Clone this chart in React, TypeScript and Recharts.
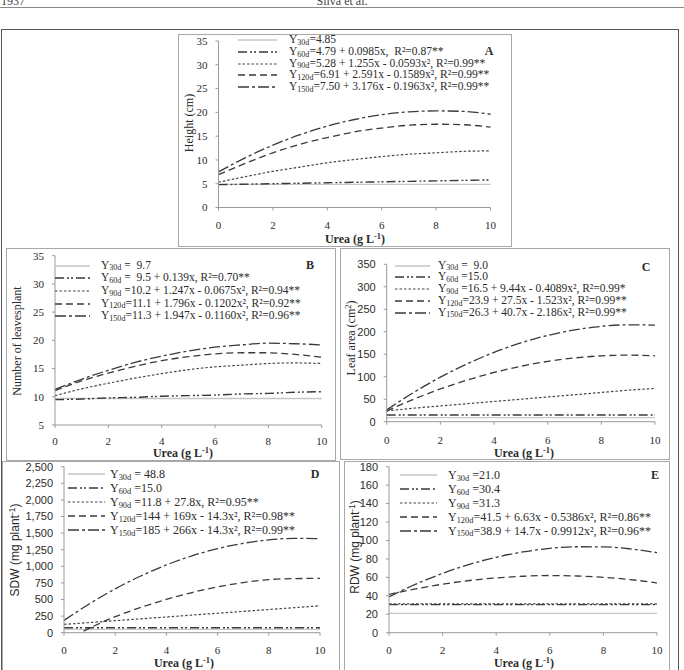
import React from "react";
import { Line, LineChart, XAxis, YAxis } from "recharts";

type Row = { x: number; d30: number; d60: number; d90: number; d120: number; d150: number };

const urea = [0, 1, 2, 3, 4, 5, 6, 7, 8, 9, 10];
const ureaTicks = [0, 2, 4, 6, 8, 10];

// A - plant height (cm)
const heightTicks = [0, 5, 10, 15, 20, 25, 30, 35];
const height30 = [4.85, 4.85, 4.85, 4.85, 4.85, 4.85, 4.85, 4.85, 4.85, 4.85, 4.85];
const height60 = [4.8, 4.9, 5.0, 5.1, 5.2, 5.3, 5.4, 5.5, 5.6, 5.7, 5.8];
const height90 = [5.3, 6.5, 7.6, 8.5, 9.4, 10.1, 10.7, 11.2, 11.5, 11.8, 11.9];
const height120 = [6.9, 9.3, 11.5, 13.3, 14.7, 15.9, 16.7, 17.3, 17.5, 17.4, 16.9];
const height150 = [7.5, 10.5, 13.1, 15.3, 17.1, 18.5, 19.5, 20.1, 20.3, 20.2, 19.6];

// B - number of leaves per plant
const leavesTicks = [5, 10, 15, 20, 25, 30, 35];
const leaves30 = [9.7, 9.7, 9.7, 9.7, 9.7, 9.7, 9.7, 9.7, 9.7, 9.7, 9.7];
const leaves60 = [9.5, 9.6, 9.8, 9.9, 10.1, 10.2, 10.3, 10.5, 10.6, 10.8, 10.9];
const leaves90 = [10.2, 11.4, 12.4, 13.3, 14.1, 14.8, 15.3, 15.6, 15.9, 16.0, 15.9];
const leaves120 = [11.1, 12.8, 14.2, 15.4, 16.4, 17.1, 17.6, 17.8, 17.8, 17.5, 17.0];
const leaves150 = [11.3, 13.1, 14.7, 16.1, 17.2, 18.1, 18.8, 19.2, 19.5, 19.4, 19.2];

// C - leaf area (cm2)
const areaTicks = [0, 50, 100, 150, 200, 250, 300, 350];
const area30 = [9, 9, 9, 9, 9, 9, 9, 9, 9, 9, 9];
const area60 = [15, 15, 15, 15, 15, 15, 15, 15, 15, 15, 15];
const area90 = [24, 30, 35, 40, 45, 50, 55, 60, 65, 70, 74];
const area120 = [23.9, 49.9, 72.8, 92.7, 109.5, 123.3, 134.1, 141.8, 146.4, 148.0, 146.6];
const area150 = [26.3, 64.8, 99.0, 128.7, 154.1, 175.2, 191.8, 204.1, 212.0, 215.5, 214.7];

// D - shoot dry weight (mg/plant)
const sdwTicks = [0, 250, 500, 750, 1000, 1250, 1500, 1750, 2000, 2250, 2500];
const sdw30 = [48.8, 48.8, 48.8, 48.8, 48.8, 48.8, 48.8, 48.8, 48.8, 48.8, 48.8];
const sdw60 = [75, 75, 75, 75, 75, 75, 75, 75, 75, 75, 75];
const sdw90 = [125, 153, 181, 209, 237, 265, 293, 321, 349, 377, 405];
const sdw120 = [-130, 70, 241, 380, 502, 605, 690, 755, 800, 815, 818];
const sdw150 = [185, 437, 660, 854, 1020, 1158, 1266, 1346, 1398, 1421, 1415];

// E - root dry weight (mg/plant)
const rdwTicks = [0, 20, 40, 60, 80, 100, 120, 140, 160, 180];
const rdw30 = [21, 21, 21, 21, 21, 21, 21, 21, 21, 21, 21];
const rdw60 = [30.4, 30.4, 30.4, 30.4, 30.4, 30.4, 30.4, 30.4, 30.4, 30.4, 30.4];
const rdw90 = [31.3, 31.3, 31.3, 31.3, 31.3, 31.3, 31.3, 31.3, 31.3, 31.3, 31.3];
const rdw120 = [41.5, 47.6, 52.6, 56.6, 59.4, 61.2, 62.0, 61.5, 60.1, 57.6, 54.0];
const rdw150 = [38.9, 52.6, 64.3, 74.1, 81.8, 87.6, 91.4, 93.2, 93.1, 90.9, 86.8];

// legend equations: [subscript, text]
const legendA = [
  ["30d", "=4.85"],
  ["60d", "=4.79 + 0.0985x,  R²=0.87**"],
  ["90d", "=5.28 + 1.255x - 0.0593x², R²=0.99**"],
  ["120d", "=6.91 + 2.591x - 0.1589x², R²=0.99**"],
  ["150d", "=7.50 + 3.176x - 0.1963x², R²=0.99**"],
];
const legendB = [
  ["30d", " =  9.7"],
  ["60d", " =  9.5 + 0.139x, R²=0.70**"],
  ["90d", " =10.2 + 1.247x - 0.0675x², R²=0.94**"],
  ["120d", "=11.1 + 1.796x - 0.1202x², R²=0.92**"],
  ["150d", "=11.3 + 1.947x - 0.1160x², R²=0.96**"],
];
const legendC = [
  ["30d", " =  9.0"],
  ["60d", " =15.0"],
  ["90d", " =16.5 + 9.44x - 0.4089x², R²=0.99*"],
  ["120d", "=23.9 + 27.5x - 1.523x², R²=0.99**"],
  ["150d", "=26.3 + 40.7x - 2.186x², R²=0.99**"],
];
const legendD = [
  ["30d", " = 48.8"],
  ["60d", " =15.0"],
  ["90d", " =11.8 + 27.8x, R²=0.95**"],
  ["120d", "=144 + 169x - 14.3x², R²=0.98**"],
  ["150d", "=185 + 266x - 14.3x², R²=0.99**"],
];
const legendE = [
  ["30d", " =21.0"],
  ["60d", " =30.4"],
  ["90d", " =31.3"],
  ["120d", "=41.5 + 6.63x - 0.5386x², R²=0.86**"],
  ["150d", "=38.9 + 14.7x - 0.9912x², R²=0.96**"],
];

const serif = "'Liberation Serif', 'Times New Roman', serif";
const sans = "'Liberation Sans', Arial, sans-serif";
const axisGrey = "#9a9a9a";
const textColor = "#2b2b2b";

const lineStyles = [
  { key: "d30", stroke: "#c6c6c6", dash: "", width: 1.3 },
  { key: "d60", stroke: "#3a3a3a", dash: "9 3 2 2 2 3", width: 1.4 },
  { key: "d90", stroke: "#444", dash: "2.5 2", width: 1.2 },
  { key: "d120", stroke: "#3a3a3a", dash: "7 4", width: 1.3 },
  { key: "d150", stroke: "#3a3a3a", dash: "11 3 3 3", width: 1.3 },
];

function buildRows(s30: number[], s60: number[], s90: number[], s120: number[], s150: number[]): Row[] {
  return urea.map((x, i) => ({ x, d30: s30[i], d60: s60[i], d90: s90[i], d120: s120[i], d150: s150[i] }));
}

const subStyle: React.CSSProperties = {
  fontSize: "0.7em",
  verticalAlign: "baseline",
  position: "relative",
  top: "0.22em",
};
const supStyle: React.CSSProperties = {
  fontSize: "0.7em",
  verticalAlign: "baseline",
  position: "relative",
  top: "-0.45em",
};

type PanelCfg = {
  box: [number, number, number, number];
  plot: [number, number, number, number];
  data: Row[];
  yDomain: [number, number];
  yTicks: number[];
  yFormat?: (v: number) => string;
  yFont: string;
  xTickMargin: number;
  yTitle: React.ReactNode;
  yTitleAt: [number, number];
  yTitleFont: string;
  xTitleAt: [number, number];
  legend: { rows: string[][]; sampleX: number; sampleW: number; textX: number; y0: number; dy: number; size: number };
  letter: [string, number, number];
};

const YW = 30;
const XH = 20;

function Panel({ cfg }: { cfg: PanelCfg }) {
  const [bl, bt, br, bb] = cfg.box;
  const [pl, pt, pr, pb] = cfg.plot;
  const w = br - bl;
  const h = bb - bt;
  const margin = { top: pt - bt, right: br - pr, left: pl - bl - YW, bottom: bb - pb - XH };
  const lg = cfg.legend;

  return (
    <>
      <div
        style={{
          position: "absolute",
          left: bl,
          top: bt,
          width: w,
          height: h,
          border: "1px solid #a8a8a8",
          boxSizing: "border-box",
        }}
      />
      <div style={{ position: "absolute", left: bl, top: bt }}>
        <LineChart width={w} height={h} data={cfg.data} margin={margin}>
          <XAxis
            dataKey="x"
            type="number"
            domain={[0, 10]}
            ticks={ureaTicks}
            interval={0}
            height={XH}
            tickSize={3}
            tickMargin={cfg.xTickMargin}
            stroke={axisGrey}
            tick={{ fill: textColor, fontSize: 11, fontFamily: serif }}
          />
          <YAxis
            type="number"
            domain={cfg.yDomain}
            ticks={cfg.yTicks}
            interval={0}
            allowDataOverflow
            width={YW}
            tickSize={3}
            tickMargin={8}
            stroke={axisGrey}
            tickFormatter={cfg.yFormat}
            tick={{ fill: textColor, fontSize: 11, fontFamily: cfg.yFont }}
          />
          {lineStyles.map((s) => (
            <Line
              key={s.key}
              dataKey={s.key}
              type="monotone"
              stroke={s.stroke}
              strokeWidth={s.width}
              strokeDasharray={s.dash || undefined}
              dot={false}
              activeDot={false}
              isAnimationActive={false}
            />
          ))}
        </LineChart>
      </div>

      {lg.rows.map((r, i) => {
        const y = lg.y0 + i * lg.dy;
        const s = lineStyles[i];
        return (
          <React.Fragment key={i}>
            <svg
              width={lg.sampleW}
              height={6}
              style={{ position: "absolute", left: lg.sampleX, top: y - 3 }}
            >
              <line
                x1={0}
                y1={3}
                x2={lg.sampleW}
                y2={3}
                stroke={s.stroke}
                strokeWidth={s.width}
                strokeDasharray={s.dash || undefined}
              />
            </svg>
            <div
              style={{
                position: "absolute",
                left: lg.textX,
                top: y,
                transform: "translateY(-50%)",
                fontFamily: serif,
                fontSize: lg.size,
                lineHeight: 1,
                whiteSpace: "pre",
                color: textColor,
              }}
            >
              Y<span style={subStyle}>{r[0]}</span>
              {r[1]}
            </div>
          </React.Fragment>
        );
      })}

      <div
        style={{
          position: "absolute",
          left: cfg.letter[1],
          top: cfg.letter[2],
          transform: "translate(-50%, -50%)",
          fontFamily: serif,
          fontWeight: "bold",
          fontSize: 12,
          lineHeight: 1,
          color: textColor,
        }}
      >
        {cfg.letter[0]}
      </div>

      <div
        style={{
          position: "absolute",
          left: cfg.yTitleAt[0],
          top: cfg.yTitleAt[1],
          transform: "translate(-50%, -50%) rotate(-90deg)",
          fontFamily: cfg.yTitleFont,
          fontSize: 12,
          lineHeight: 1,
          whiteSpace: "nowrap",
          color: textColor,
        }}
      >
        {cfg.yTitle}
      </div>

      <div
        style={{
          position: "absolute",
          left: cfg.xTitleAt[0],
          top: cfg.xTitleAt[1],
          transform: "translate(-50%, -50%)",
          fontFamily: serif,
          fontWeight: "bold",
          fontSize: 12,
          lineHeight: 1,
          whiteSpace: "nowrap",
          color: textColor,
        }}
      >
        Urea (g L<span style={supStyle}>-1</span>)
      </div>
    </>
  );
}

const thousands = (v: number) => v.toLocaleString("en-US");

const panels: PanelCfg[] = [
  {
    box: [178, 34, 512, 247],
    plot: [218.5, 41, 490.5, 207.5],
    data: buildRows(height30, height60, height90, height120, height150),
    yDomain: [0, 35],
    yTicks: heightTicks,
    yFont: serif,
    xTickMargin: 11,
    yTitle: "Height (cm)",
    yTitleAt: [189, 123],
    yTitleFont: serif,
    xTitleAt: [355, 239],
    legend: { rows: legendA, sampleX: 238, sampleW: 39, textX: 289, y0: 40, dy: 11.8, size: 11.5 },
    letter: ["A", 489, 51],
  },
  {
    box: [6, 248, 336, 461],
    plot: [55, 255.7, 321.7, 425],
    data: buildRows(leaves30, leaves60, leaves90, leaves120, leaves150),
    yDomain: [5, 35],
    yTicks: leavesTicks,
    yFont: serif,
    xTickMargin: 9,
    yTitle: "Number of leavesplant",
    yTitleAt: [17, 341],
    yTitleFont: serif,
    xTitleAt: [183, 453],
    legend: { rows: legendB, sampleX: 55, sampleW: 35, textX: 101, y0: 265.5, dy: 12.7, size: 11.5 },
    letter: ["B", 310, 265],
  },
  {
    box: [340, 248, 670, 460],
    plot: [386.7, 264.3, 655, 421.7],
    data: buildRows(area30, area60, area90, area120, area150),
    yDomain: [0, 350],
    yTicks: areaTicks,
    yFont: sans,
    xTickMargin: 11,
    yTitle: (
      <>
        Leaf area (cm<span style={supStyle}>2</span>)
      </>
    ),
    yTitleAt: [351, 338],
    yTitleFont: serif,
    xTitleAt: [524, 453],
    legend: { rows: legendC, sampleX: 395, sampleW: 35, textX: 438, y0: 265.7, dy: 11.7, size: 11.5 },
    letter: ["C", 646, 267],
  },
  {
    box: [2, 461, 340, 672],
    plot: [64, 466.7, 320, 632.7],
    data: buildRows(sdw30, sdw60, sdw90, sdw120, sdw150),
    yDomain: [0, 2500],
    yTicks: sdwTicks,
    yFormat: thousands,
    yFont: sans,
    xTickMargin: 10,
    yTitle: (
      <>
        SDW (mg plant<span style={supStyle}>-1</span>)
      </>
    ),
    yTitleAt: [15, 550],
    yTitleFont: sans,
    xTitleAt: [184, 663],
    legend: { rows: legendD, sampleX: 68, sampleW: 37, textX: 110, y0: 474.3, dy: 13.9, size: 12 },
    letter: ["D", 315, 474],
  },
  {
    box: [344, 461, 670, 672],
    plot: [389, 466.7, 657, 632.7],
    data: buildRows(rdw30, rdw60, rdw90, rdw120, rdw150),
    yDomain: [0, 180],
    yTicks: rdwTicks,
    yFont: sans,
    xTickMargin: 10,
    yTitle: (
      <>
        RDW (mg plant<span style={supStyle}>-1</span>)
      </>
    ),
    yTitleAt: [355, 547],
    yTitleFont: sans,
    xTitleAt: [524, 663],
    legend: { rows: legendE, sampleX: 400, sampleW: 37, textX: 448, y0: 475, dy: 13.9, size: 12 },
    letter: ["E", 655, 475],
  },
];

export default function App() {
  return (
    <div
      style={{
        position: "absolute",
        left: 0,
        top: 0,
        width: 684,
        height: 670,
        overflow: "hidden",
        background: "#fff",
        fontFamily: serif,
      }}
    >
      <div style={{ position: "absolute", left: 1, top: -6, fontSize: 12, color: "#444" }}>1937</div>
      <div
        style={{
          position: "absolute",
          left: 342,
          top: -6,
          transform: "translateX(-50%)",
          fontSize: 12,
          color: "#444",
        }}
      >
        Silva et al.
      </div>
      <div style={{ position: "absolute", left: 0, top: 7, width: 684, height: 1, background: "#8a8a8a" }} />

      <div
        style={{
          position: "absolute",
          left: 1,
          top: 29,
          width: 678,
          height: 660,
          border: "1px solid #555",
          boxSizing: "border-box",
        }}
      />

      {panels.map((p, i) => (
        <Panel key={i} cfg={p} />
      ))}
    </div>
  );
}
